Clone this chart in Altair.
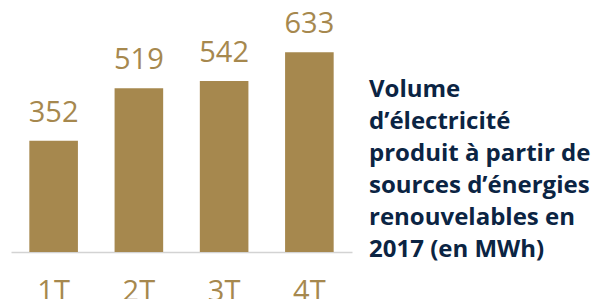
import altair as alt
import pandas as pd

quarters = ["1T", "2T", "3T", "4T"]
values = [352, 519, 542, 633]
title_lines = [
    "Volume",
    "d\u2019électricité",
    "produit à partir de",
    "sources d\u2019énergies",
    "renouvelables en",
    "2017 (en MWh)",
]

gold = "#A6884E"
navy = "#0B2443"

df = pd.DataFrame({"q": quarters, "v": values})

x = alt.X("q:N", sort=quarters, title=None,
          scale=alt.Scale(paddingInner=0.43, paddingOuter=0.215),
          axis=alt.Axis(labelAngle=0, ticks=False, domainColor="#D3D3D3",
                        domainWidth=1.5, labelFont="Open Sans", labelFontSize=29,
                        labelColor=gold, labelPadding=25, labelBaseline="top"))
y = alt.Y("v:Q", scale=alt.Scale(domain=[0, 700], nice=False), axis=None)

bars = alt.Chart(df).mark_bar(color=gold).encode(x=x, y=y)
labels = alt.Chart(df).mark_text(font="Open Sans", fontSize=29, color=gold,
                                 baseline="alphabetic", dy=-19).encode(
    x=alt.X("q:N", sort=quarters), y="v:Q", text="v:Q")

note = alt.Chart(pd.DataFrame({"k": [0]})).mark_text(
    text=title_lines, font="Open Sans", fontSize=24, fontWeight="bold",
    color=navy, align="left", baseline="alphabetic", lineHeight=32
).encode(x=alt.value(358), y=alt.value(66))

chart = alt.layer(bars, labels, note).properties(
    width=341, height=221,
    autosize=alt.AutoSizeParams(type="none"),
    padding={"left": 3, "top": 23, "right": 240, "bottom": 60},
).configure_view(stroke=None)

chart.save("out.html", embed_options={"renderer": "svg", "actions": False})
